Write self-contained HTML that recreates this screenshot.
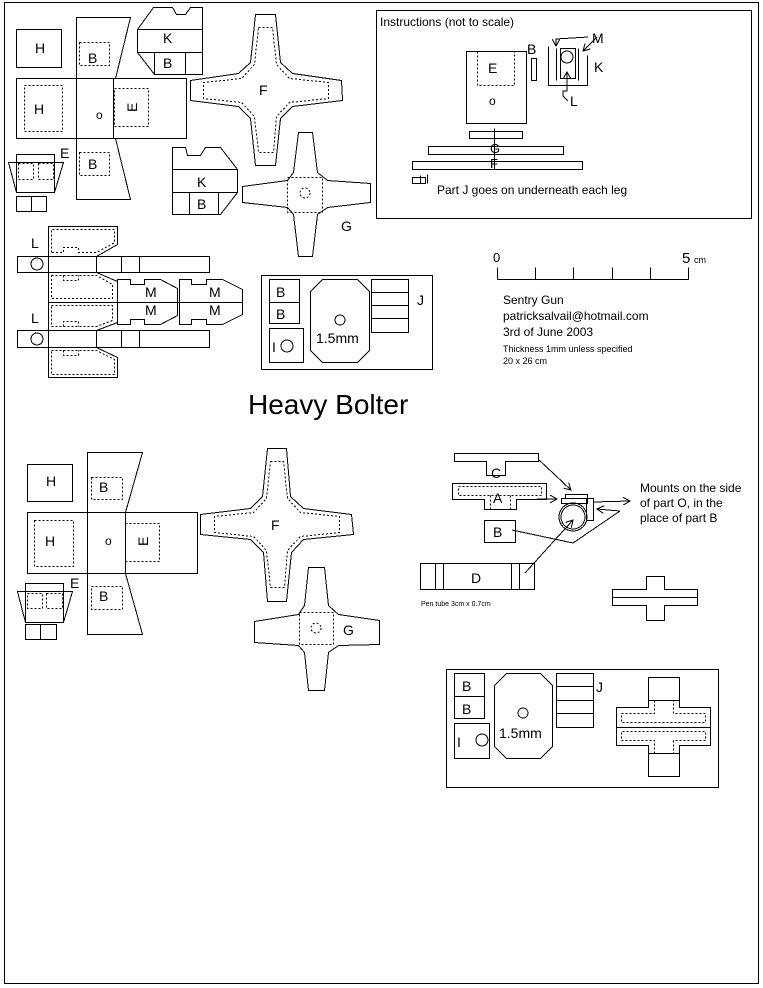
<!DOCTYPE html>
<html><head><meta charset="utf-8"><style>
html,body{margin:0;padding:0;background:#fff;}
svg{display:block;}
text{font-family:"Liberation Sans",Arial,sans-serif;fill:#000;}
</style></head><body>
<svg width="763" height="988" viewBox="0 0 763 988" xmlns="http://www.w3.org/2000/svg">
<defs>
<marker id="ar" markerWidth="8" markerHeight="8" refX="7" refY="4" orient="auto" markerUnits="userSpaceOnUse"><path d="M0,0 L7,4 L0,8" fill="none" stroke="#000" stroke-width="1"/></marker>
</defs>
<g fill="none" stroke="#000" stroke-width="1" shape-rendering="crispEdges">
<rect x="4.5" y="2.5" width="754" height="981"/>

<rect x="16.5" y="29.5" width="45" height="38"/>
<polygon points="76.5,17.5 130.5,17.5 115.5,78.5 76.5,78.5"/>
<rect x="16.5" y="78.5" width="60" height="60"/>
<rect x="76.5" y="78.5" width="37" height="60"/>
<rect x="113.5" y="78.5" width="73" height="60"/>
<polygon points="76.5,138.5 115.5,138.5 130.5,199.5 76.5,199.5"/>
<g stroke-dasharray="2,2">
<rect x="79.5" y="42.5" width="30" height="23"/>
<rect x="24.5" y="85.5" width="38" height="46"/>
<rect x="114.5" y="88.5" width="34" height="38"/>
<rect x="79.5" y="152.5" width="30" height="23"/>
<rect x="18.5" y="163.5" width="15" height="16"/>
<rect x="38.5" y="163.5" width="15" height="16"/>
</g>
<rect x="16.5" y="154.5" width="38" height="38"/>
<polygon points="8.5,162.5 63.5,162.5 54.5,192.5 16.5,192.5"/>
<rect x="16.5" y="196.5" width="30" height="15"/>
<line x1="31.5" y1="196.5" x2="31.5" y2="211.5"/>

<polygon points="137.5,29.5 153.5,7.5 172.5,7.5 176.5,14.5 185.5,14.5 190.5,7.5 202.5,7.5 202.5,74.5 154.5,74.5 137.5,52.5"/>
<line x1="137.5" y1="29.5" x2="202.5" y2="29.5"/>
<line x1="137.5" y1="52.5" x2="202.5" y2="52.5"/>
<line x1="154.5" y1="52.5" x2="154.5" y2="74.5"/>
<line x1="185.5" y1="52.5" x2="185.5" y2="74.5"/>
<polygon points="172.5,147.5 185.5,147.5 187.5,155.5 200.5,155.5 205.5,147.5 220.5,147.5 237.5,169.5 237.5,192.5 220.5,214.5 172.5,214.5"/>
<line x1="172.5" y1="169.5" x2="237.5" y2="169.5"/>
<line x1="172.5" y1="192.5" x2="237.5" y2="192.5"/>
<line x1="189.5" y1="192.5" x2="189.5" y2="214.5"/>
<line x1="218.5" y1="192.5" x2="218.5" y2="214.5"/>

<polygon points="255.5,14.5 275.5,14.5 280.5,62.5 292.5,73.5 341.5,80.5 342.5,100.5 292.5,106.5 280.5,118.5 275.5,165.5 255.5,165.5 250.5,118.5 238.5,106.5 190.5,100.5 190.5,80.5 238.5,73.5 250.5,62.5"/>
<polygon stroke-dasharray="2,2" points="258.5,27.5 272.5,27.5 276.5,64.5 289.5,78.5 328.5,82.5 328.5,98.5 289.5,102.5 276.5,116.5 273.5,152.5 258.5,152.5 254.5,116.5 241.5,102.5 203.5,98.5 203.5,82.5 241.5,78.5 254.5,64.5"/>
<polygon points="298.5,132.5 312.5,132.5 317.5,172.5 327.5,180.5 370.5,183.5 370.5,202.5 327.5,207.5 317.5,214.5 312.5,256.5 298.5,256.5 293.5,214.5 287.5,207.5 242.5,202.5 242.5,186.5 287.5,180.5 293.5,172.5"/>
<rect stroke-dasharray="2,2" x="287.5" y="177.5" width="35" height="35"/>
<circle stroke-dasharray="2,2" cx="305" cy="193" r="5"/>

<polygon points="48.5,226.5 117.5,226.5 117.5,244.5 96.5,256.5 48.5,256.5"/>
<rect x="17.5" y="256.5" width="192" height="16"/>
<line x1="48.5" y1="256.5" x2="48.5" y2="272.5"/>
<line x1="96.5" y1="256.5" x2="96.5" y2="272.5"/>
<line x1="121.5" y1="256.5" x2="121.5" y2="272.5"/>
<line x1="139.5" y1="256.5" x2="139.5" y2="272.5"/>
<circle cx="37" cy="264" r="6"/>
<polygon points="48.5,272.5 96.5,272.5 117.5,281.5 117.5,302.5 48.5,302.5"/>
<polygon points="48.5,302.5 117.5,302.5 117.5,322.5 96.5,330.5 48.5,330.5"/>
<rect x="17.5" y="330.5" width="192" height="17"/>
<line x1="48.5" y1="330.5" x2="48.5" y2="347.5"/>
<line x1="96.5" y1="330.5" x2="96.5" y2="347.5"/>
<line x1="121.5" y1="330.5" x2="121.5" y2="347.5"/>
<line x1="139.5" y1="330.5" x2="139.5" y2="347.5"/>
<circle cx="37" cy="339" r="6"/>
<polygon points="48.5,347.5 96.5,347.5 117.5,357.5 117.5,377.5 48.5,377.5"/>
<g stroke-dasharray="2,2">
<polyline points="51.5,252.5 51.5,229.5 114.5,229.5 114.5,242.5 96.5,252.5 78.5,252.5 78.5,247.5 63.5,247.5 63.5,252.5 51.5,252.5"/>
<polyline points="51.5,275.5 96.5,275.5 112.5,284.5 112.5,298.5 51.5,298.5 51.5,275.5"/>
<polyline points="63.5,275.5 63.5,280.5 78.5,280.5 78.5,275.5"/>
<polyline points="51.5,305.5 112.5,305.5 112.5,320.5 96.5,326.5 51.5,326.5 51.5,305.5"/>
<polyline points="63.5,326.5 63.5,321.5 78.5,321.5 78.5,326.5"/>
<polyline points="51.5,350.5 96.5,350.5 114.5,359.5 114.5,374.5 51.5,374.5 51.5,350.5"/>
<polyline points="63.5,350.5 63.5,355.5 78.5,355.5 78.5,350.5"/>
</g>
<polygon points="117.5,279.5 130.5,279.5 130.5,284.5 144.5,284.5 144.5,279.5 160.5,279.5 177.5,288.5 177.5,315.5 160.5,324.5 144.5,324.5 144.5,319.5 130.5,319.5 130.5,324.5 117.5,324.5"/>
<polygon points="179.5,279.5 191.5,279.5 191.5,284.5 206.5,284.5 206.5,279.5 222.5,279.5 242.5,289.5 242.5,314.5 222.5,324.5 206.5,324.5 206.5,319.5 191.5,319.5 191.5,324.5 179.5,324.5"/>
<line x1="117.5" y1="302.5" x2="242.5" y2="302.5"/>

<rect x="261.5" y="275.5" width="171" height="94"/>
<rect x="269.5" y="279.5" width="30" height="23"/>
<rect x="269.5" y="302.5" width="30" height="21"/>
<rect x="269.5" y="328.5" width="34" height="34"/>
<polygon points="322.5,279.5 357.5,279.5 369.5,291.5 369.5,350.5 357.5,362.5 322.5,362.5 310.5,350.5 310.5,291.5"/>
<circle cx="340" cy="320" r="5"/>
<rect x="371.5" y="279.5" width="37" height="53"/>
<line x1="371.5" y1="292.5" x2="408.5" y2="292.5"/>
<line x1="371.5" y1="305.5" x2="408.5" y2="305.5"/>
<line x1="371.5" y1="318.5" x2="408.5" y2="318.5"/>
<circle cx="287" cy="346" r="6"/>

<rect x="376.5" y="10.5" width="375" height="208"/>
<rect x="466.5" y="51.5" width="60" height="72"/>
<polyline stroke-dasharray="2,2" points="477.5,51.5 477.5,85.5 514.5,85.5 514.5,51.5"/>
<rect x="531.5" y="58.5" width="5" height="22"/>
<polyline points="548.5,46.5 548.5,85.5 587.5,85.5 587.5,55.5"/>
<line x1="556.5" y1="48.5" x2="556.5" y2="80.5"/>
<line x1="578.5" y1="48.5" x2="578.5" y2="80.5"/>
<rect x="560.5" y="48.5" width="15" height="30"/>
<circle cx="567" cy="57" r="6"/>
<polyline points="588,37 556,39 556,46" marker-end="url(#ar)"/>
<line x1="597" y1="37" x2="583" y2="51" marker-end="url(#ar)"/>
<polyline points="568,101 563,96 563,91 567,91 567,72" marker-end="url(#ar)"/>
<rect x="469.5" y="131.5" width="53" height="7"/>
<rect x="428.5" y="146.5" width="135" height="8"/>
<rect x="412.5" y="161.5" width="170" height="8"/>
<line x1="494.5" y1="128.5" x2="494.5" y2="169.5"/>
<rect x="412.5" y="177.5" width="13" height="6"/>
<line x1="420.5" y1="175.5" x2="420.5" y2="183.5"/>
<line x1="427.5" y1="174.5" x2="427.5" y2="183.5"/>

<line x1="497.5" y1="279.5" x2="688.5" y2="279.5"/>
<line x1="497.5" y1="267.5" x2="497.5" y2="279.5"/>
<line x1="535.5" y1="267.5" x2="535.5" y2="279.5"/>
<line x1="573.5" y1="267.5" x2="573.5" y2="279.5"/>
<line x1="612.5" y1="267.5" x2="612.5" y2="279.5"/>
<line x1="650.5" y1="267.5" x2="650.5" y2="279.5"/>
<line x1="688.5" y1="267.5" x2="688.5" y2="279.5"/>

<rect x="27.5" y="464.5" width="45" height="37"/>
<polygon points="87.5,452.5 142.5,452.5 125.5,512.5 87.5,512.5"/>
<rect x="27.5" y="512.5" width="60" height="61"/>
<rect x="87.5" y="512.5" width="38" height="61"/>
<rect x="125.5" y="512.5" width="72" height="61"/>
<polygon points="87.5,573.5 125.5,573.5 142.5,634.5 87.5,634.5"/>
<g stroke-dasharray="2,2">
<rect x="91.5" y="477.5" width="31" height="22"/>
<rect x="34.5" y="520.5" width="39" height="46"/>
<rect x="125.5" y="523.5" width="34" height="38"/>
<rect x="91.5" y="586.5" width="31" height="23"/>
<rect x="27.5" y="593.5" width="15" height="15"/>
<rect x="46.5" y="593.5" width="16" height="15"/>
</g>
<rect x="25.5" y="583.5" width="38" height="39"/>
<polygon points="17.5,591.5 72.5,591.5 63.5,622.5 25.5,622.5"/>
<rect x="25.5" y="624.5" width="31" height="15"/>
<line x1="40.5" y1="624.5" x2="40.5" y2="639.5"/>

<polygon points="267.5,448.5 286.5,448.5 290.5,496.5 303.5,508.5 351.5,514.5 353.5,534.5 303.5,539.5 291.5,552.5 286.5,601.5 267.5,601.5 263.5,552.5 250.5,539.5 200.5,534.5 200.5,514.5 250.5,508.5 262.5,496.5"/>
<polygon stroke-dasharray="2,2" points="270.5,461.5 283.5,461.5 287.5,498.5 300.5,512.5 339.5,516.5 339.5,532.5 300.5,536.5 287.5,550.5 284.5,587.5 270.5,587.5 266.5,550.5 253.5,536.5 214.5,532.5 214.5,516.5 253.5,512.5 266.5,498.5"/>
<polygon points="308.5,567.5 324.5,567.5 328.5,605.5 338.5,614.5 379.5,620.5 379.5,644.5 338.5,645.5 328.5,652.5 324.5,690.5 308.5,690.5 304.5,652.5 298.5,645.5 254.5,642.5 254.5,621.5 298.5,614.5 304.5,605.5"/>
<rect stroke-dasharray="2,2" x="299.5" y="612.5" width="34" height="32"/>
<circle stroke-dasharray="2,2" cx="316" cy="628" r="5"/>

<polygon points="454.5,453.5 538.5,453.5 538.5,461.5 505.5,461.5 505.5,475.5 486.5,475.5 486.5,461.5 454.5,461.5"/>
<polygon points="452.5,483.5 546.5,483.5 546.5,499.5 516.5,499.5 516.5,509.5 484.5,509.5 484.5,499.5 452.5,499.5"/>
<rect stroke-dasharray="2,2" x="458.5" y="486.5" width="83" height="9"/>
<line stroke-dasharray="2,2" x1="490.5" y1="495.5" x2="490.5" y2="509.5"/>
<line stroke-dasharray="2,2" x1="510.5" y1="495.5" x2="510.5" y2="509.5"/>
<rect x="484.5" y="520.5" width="31" height="22"/>
<rect x="420.5" y="563.5" width="114" height="26"/>
<line x1="435.5" y1="563.5" x2="435.5" y2="589.5"/>
<line x1="443.5" y1="563.5" x2="443.5" y2="589.5"/>
<line x1="511.5" y1="563.5" x2="511.5" y2="589.5"/>
<line x1="519.5" y1="563.5" x2="519.5" y2="589.5"/>
<rect x="565.5" y="494.5" width="22" height="4"/>
<rect x="561.5" y="498.5" width="26" height="5"/>
<rect x="586.5" y="498.5" width="7" height="22"/>
<circle cx="573" cy="517" r="14"/>
<circle cx="573" cy="517" r="12"/>
<line x1="538" y1="459" x2="571" y2="490" marker-end="url(#ar)"/>
<line x1="537" y1="499" x2="557" y2="499" marker-end="url(#ar)"/>
<line x1="593" y1="502" x2="630" y2="501" marker-end="url(#ar)"/>
<line x1="620" y1="511" x2="597" y2="509" marker-end="url(#ar)"/>
<polyline points="620,511 573,543 512,530"/>
<line x1="525" y1="573" x2="573" y2="520" marker-end="url(#ar)"/>
<polygon points="646.5,576.5 664.5,576.5 664.5,589.5 697.5,589.5 697.5,605.5 664.5,605.5 664.5,620.5 646.5,620.5 646.5,605.5 612.5,605.5 612.5,589.5 646.5,589.5"/>
<line x1="612.5" y1="597.5" x2="697.5" y2="597.5"/>

<rect x="446.5" y="669.5" width="272" height="118"/>
<rect x="454.5" y="673.5" width="30" height="23"/>
<rect x="454.5" y="696.5" width="30" height="22"/>
<rect x="454.5" y="723.5" width="35" height="35"/>
<circle cx="482" cy="740" r="6"/>
<polygon points="506.5,673.5 540.5,673.5 552.5,685.5 552.5,746.5 540.5,758.5 506.5,758.5 494.5,746.5 494.5,685.5"/>
<circle cx="523" cy="713" r="5"/>
<rect x="556.5" y="673.5" width="37" height="54"/>
<line x1="556.5" y1="686.5" x2="593.5" y2="686.5"/>
<line x1="556.5" y1="700.5" x2="593.5" y2="700.5"/>
<line x1="556.5" y1="713.5" x2="593.5" y2="713.5"/>
<polygon points="648.5,677.5 679.5,677.5 679.5,707.5 710.5,707.5 710.5,745.5 679.5,745.5 679.5,776.5 648.5,776.5 648.5,745.5 616.5,745.5 616.5,707.5 648.5,707.5"/>
<line x1="616.5" y1="727.5" x2="710.5" y2="727.5"/>
<line x1="648.5" y1="700.5" x2="679.5" y2="700.5"/>
<line x1="648.5" y1="753.5" x2="679.5" y2="753.5"/>
<g stroke-dasharray="2,2">
<polyline points="654.5,700.5 654.5,713.5 621.5,713.5 621.5,722.5 705.5,722.5 705.5,713.5 673.5,713.5 673.5,700.5"/>
<polyline points="654.5,753.5 654.5,740.5 621.5,740.5 621.5,731.5 705.5,731.5 705.5,740.5 673.5,740.5 673.5,753.5"/>
</g>
</g>

<g font-size="14">
<text x="35" y="53">H</text>
<text x="88" y="63">B</text>
<text x="34" y="114">H</text>
<text x="96" y="119" font-size="12">o</text>
<text x="127" y="112" transform="rotate(-90 132 107)">E</text>
<text x="88" y="169">B</text>
<text x="60" y="158">E</text>
<text x="163" y="43">K</text>
<text x="163" y="68">B</text>
<text x="197" y="187">K</text>
<text x="197" y="209">B</text>
<text x="259" y="95">F</text>
<text x="341" y="231">G</text>
<text x="31" y="248">L</text>
<text x="31" y="323">L</text>
<text x="145" y="297">M</text>
<text x="145" y="315">M</text>
<text x="209" y="297">M</text>
<text x="209" y="315">M</text>
<text x="276" y="297">B</text>
<text x="276" y="319">B</text>
<text x="272" y="352">I</text>
<text x="316" y="343">1.5mm</text>
<text x="417" y="305">J</text>

<text x="488" y="73">E</text>
<text x="489" y="105" font-size="12">o</text>
<text x="527" y="54">B</text>
<text x="592" y="43">M</text>
<text x="594" y="72">K</text>
<text x="570" y="106">L</text>
<text x="490" y="153" font-size="13">G</text>
<text x="490" y="168" font-size="13">F</text>
<text x="380" y="26" font-size="12">Instructions (not to scale)</text>
<text x="437" y="194" font-size="12">Part J goes on underneath each leg</text>

<text x="493" y="262" font-size="13">0</text>
<text x="682" y="263" font-size="15">5</text>
<text x="694" y="263" font-size="9">cm</text>
<text x="503" y="304" font-size="12">Sentry Gun</text>
<text x="503" y="320" font-size="12">patricksalvail@hotmail.com</text>
<text x="503" y="336" font-size="12">3rd of June 2003</text>
<text x="503" y="352" font-size="9">Thickness 1mm unless specified</text>
<text x="503" y="364" font-size="9">20 x 26 cm</text>

<text x="248" y="414" font-size="28">Heavy Bolter</text>

<text x="46" y="486">H</text>
<text x="99" y="492">B</text>
<text x="45" y="546">H</text>
<text x="105" y="545" font-size="12">o</text>
<text x="138" y="546" transform="rotate(-90 143 541)">E</text>
<text x="99" y="601">B</text>
<text x="70" y="588">E</text>
<text x="271" y="530">F</text>
<text x="343" y="635">G</text>

<text x="491" y="478">C</text>
<text x="493" y="503">A</text>
<text x="493" y="537">B</text>
<text x="471" y="583">D</text>
<text x="421" y="606" font-size="7">Pen tube 3cm x 0.7cm</text>
<text x="640" y="492" font-size="12">Mounts on the side</text>
<text x="640" y="507" font-size="12">of part O, in the</text>
<text x="640" y="522" font-size="12">place of part B</text>

<text x="462" y="691">B</text>
<text x="462" y="714">B</text>
<text x="457" y="747">I</text>
<text x="499" y="738">1.5mm</text>
<text x="596" y="692">J</text>
</g>
</svg>
</body></html>
